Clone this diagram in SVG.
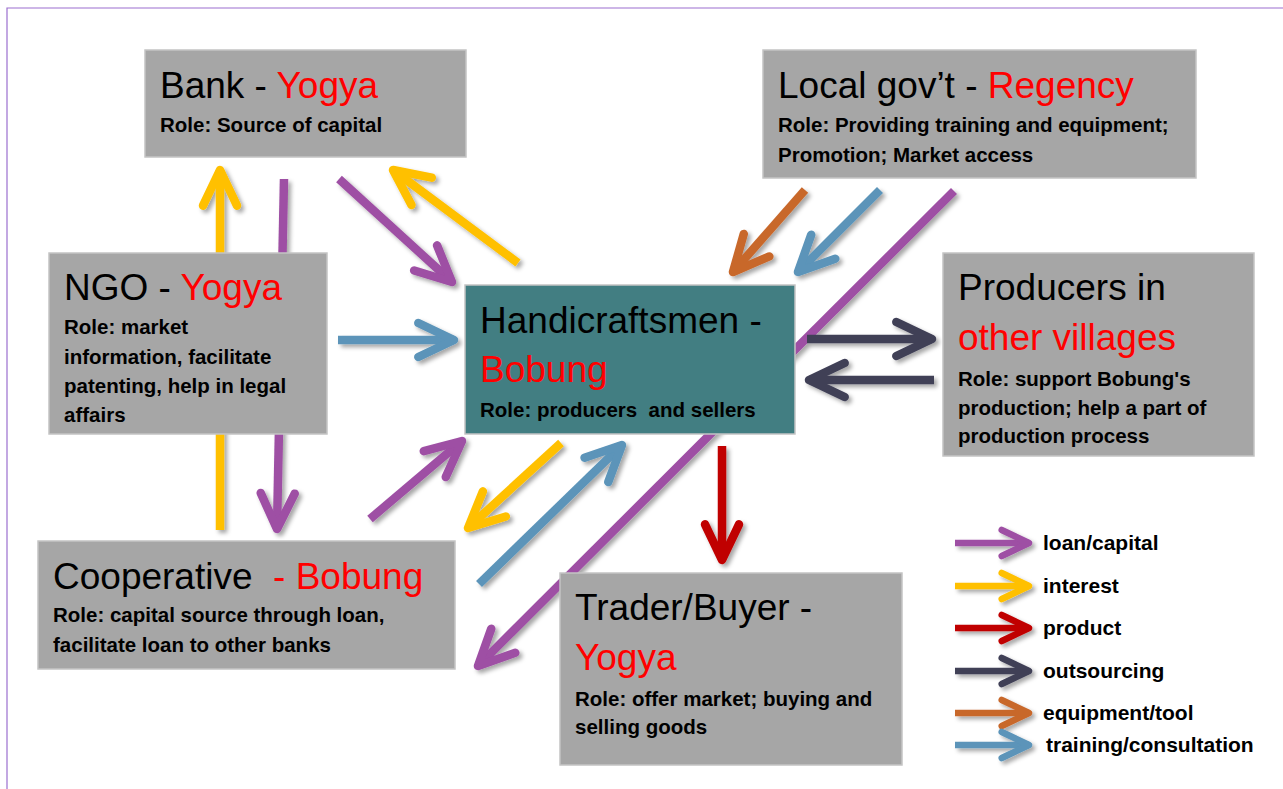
<svg xmlns="http://www.w3.org/2000/svg" width="1283" height="789" viewBox="0 0 1283 789">
<style>
.box{fill:#a6a6a6;stroke:#c4c4c4;stroke-width:1.5}
.teal{fill:#427e82;stroke:#c4c4c4;stroke-width:1.5}
.t{font-family:"Liberation Sans",Arial,sans-serif;font-size:37px;fill:#000}
.r{fill:#ff0000}
.s{font-family:"Liberation Sans",Arial,sans-serif;font-size:20.5px;font-weight:bold;fill:#000}
.lg{font-family:"Liberation Sans",Arial,sans-serif;font-size:21px;font-weight:bold;fill:#000}
.a{fill:none;stroke-width:8.5;stroke-linecap:butt}
.l{fill:none;stroke-width:6.5;stroke-linecap:butt}
.pu{stroke:#9e4fa4;marker-end:url(#mpu)}
.ye{stroke:#ffc000;marker-end:url(#mye)}
.rd{stroke:#c00000;marker-end:url(#mrd)}
.dk{stroke:#404057;marker-end:url(#mdk)}
.or{stroke:#c8682c;marker-end:url(#mor)}
.bl{stroke:#5b94b9;marker-end:url(#mbl)}
</style>
<defs>
<filter id="sh" x="-20%" y="-20%" width="140%" height="140%">
<feDropShadow dx="3" dy="3" stdDeviation="2" flood-color="#000" flood-opacity="0.35"/>
</filter>
<marker id="mpu" markerUnits="strokeWidth" viewBox="-6 -3.5 7 7" markerWidth="7" markerHeight="7" refX="0" refY="0" orient="auto" overflow="visible"><path d="M-4.2,-2 L0,0 L-4.2,2" fill="none" stroke="#9e4fa4" stroke-width="1" stroke-linecap="round" stroke-linejoin="round"/></marker>
<marker id="mye" markerUnits="strokeWidth" viewBox="-6 -3.5 7 7" markerWidth="7" markerHeight="7" refX="0" refY="0" orient="auto" overflow="visible"><path d="M-4.2,-2 L0,0 L-4.2,2" fill="none" stroke="#ffc000" stroke-width="1" stroke-linecap="round" stroke-linejoin="round"/></marker>
<marker id="mrd" markerUnits="strokeWidth" viewBox="-6 -3.5 7 7" markerWidth="7" markerHeight="7" refX="0" refY="0" orient="auto" overflow="visible"><path d="M-4.2,-2 L0,0 L-4.2,2" fill="none" stroke="#c00000" stroke-width="1" stroke-linecap="round" stroke-linejoin="round"/></marker>
<marker id="mdk" markerUnits="strokeWidth" viewBox="-6 -3.5 7 7" markerWidth="7" markerHeight="7" refX="0" refY="0" orient="auto" overflow="visible"><path d="M-4.2,-2 L0,0 L-4.2,2" fill="none" stroke="#404057" stroke-width="1" stroke-linecap="round" stroke-linejoin="round"/></marker>
<marker id="mor" markerUnits="strokeWidth" viewBox="-6 -3.5 7 7" markerWidth="7" markerHeight="7" refX="0" refY="0" orient="auto" overflow="visible"><path d="M-4.2,-2 L0,0 L-4.2,2" fill="none" stroke="#c8682c" stroke-width="1" stroke-linecap="round" stroke-linejoin="round"/></marker>
<marker id="mbl" markerUnits="strokeWidth" viewBox="-6 -3.5 7 7" markerWidth="7" markerHeight="7" refX="0" refY="0" orient="auto" overflow="visible"><path d="M-4.2,-2 L0,0 L-4.2,2" fill="none" stroke="#5b94b9" stroke-width="1" stroke-linecap="round" stroke-linejoin="round"/></marker>
</defs>
<rect width="1283" height="789" fill="#ffffff"/>
<path d="M1283,8 L7,8 L7,789" fill="none" stroke="#9b6fcf" stroke-width="1.2"/>

<g id="connectors" filter="url(#sh)">
<path class="a ye" d="M220,530 L220,170"/>
<path class="a pu" d="M284,179 L277,529"/>
<path class="a pu" d="M339,179 L452,282"/>
<path class="a ye" d="M518,263 L393,170"/>
<path class="a bl" d="M338,340 L454,340"/>
<path class="a or" d="M805,190 L733,272"/>
<path class="a bl" d="M880,190 L798,272"/>
<path class="a pu" d="M954,191 L478,666"/>
<path class="a dk" d="M807,339 L932,339"/>
<path class="a dk" d="M934,380 L809,380"/>
<path class="a pu" d="M370,519 L462,441"/>
<path class="a ye" d="M561,443 L468,528"/>
<path class="a bl" d="M479,584 L622,445"/>
<path class="a rd" d="M722,446 L722,560"/>
</g>

<g id="bank">
<rect class="box" x="145" y="50" width="321" height="107"/>
<text class="t" x="160" y="98">Bank - <tspan class="r">Yogya</tspan></text>
<text class="s" x="160" y="132">Role: Source of capital</text>
</g>

<g id="localgov">
<rect class="box" x="763" y="50" width="433" height="128"/>
<text class="t" x="778" y="98">Local gov’t - <tspan class="r">Regency</tspan></text>
<text class="s" x="778" y="132">Role: Providing training and equipment;</text>
<text class="s" x="778" y="162">Promotion; Market access</text>
</g>

<g id="ngo">
<rect class="box" x="49" y="253" width="278" height="181"/>
<text class="t" x="64" y="300">NGO - <tspan class="r">Yogya</tspan></text>
<text class="s" x="64" y="334">Role: market</text>
<text class="s" x="64" y="364">information, facilitate</text>
<text class="s" x="64" y="393">patenting, help in legal</text>
<text class="s" x="64" y="422">affairs</text>
</g>

<g id="handicraftsmen">
<rect class="teal" x="465" y="285" width="330" height="149"/>
<text class="t" x="480" y="333">Handicraftsmen -</text>
<text class="t r" x="480" y="382">Bobung</text>
<text class="s" x="480" y="417" xml:space="preserve">Role: producers  and sellers</text>
</g>

<g id="producers">
<rect class="box" x="943" y="253" width="311" height="203"/>
<text class="t" x="958" y="300">Producers in</text>
<text class="t r" x="958" y="350">other villages</text>
<text class="s" x="958" y="386">Role: support Bobung's</text>
<text class="s" x="958" y="415">production; help a part of</text>
<text class="s" x="958" y="443">production process</text>
</g>

<g id="cooperative">
<rect class="box" x="38" y="541" width="417" height="128"/>
<text class="t" x="53" y="589" xml:space="preserve">Cooperative  <tspan class="r">- Bobung</tspan></text>
<text class="s" x="53" y="622">Role: capital source through loan,</text>
<text class="s" x="53" y="652">facilitate loan to other banks</text>
</g>

<g id="trader">
<rect class="box" x="560" y="573" width="342" height="192"/>
<text class="t" x="575" y="620">Trader/Buyer -</text>
<text class="t r" x="575" y="670">Yogya</text>
<text class="s" x="575" y="706">Role: offer market; buying and</text>
<text class="s" x="575" y="734">selling goods</text>
</g>

<g id="legend">
<g filter="url(#sh)">
<path class="l pu" d="M955,543 L1029,543"/>
<path class="l ye" d="M955,586 L1029,586"/>
<path class="l rd" d="M955,628 L1029,628"/>
<path class="l dk" d="M955,671 L1029,671"/>
<path class="l or" d="M955,713 L1029,713"/>
<path class="l bl" d="M955,745 L1029,745"/>
</g>
<text class="lg" x="1043" y="550">loan/capital</text>
<text class="lg" x="1043" y="593">interest</text>
<text class="lg" x="1043" y="635">product</text>
<text class="lg" x="1043" y="678">outsourcing</text>
<text class="lg" x="1043" y="720">equipment/tool</text>
<text class="lg" x="1046" y="752">training/consultation</text>
</g>
</svg>
